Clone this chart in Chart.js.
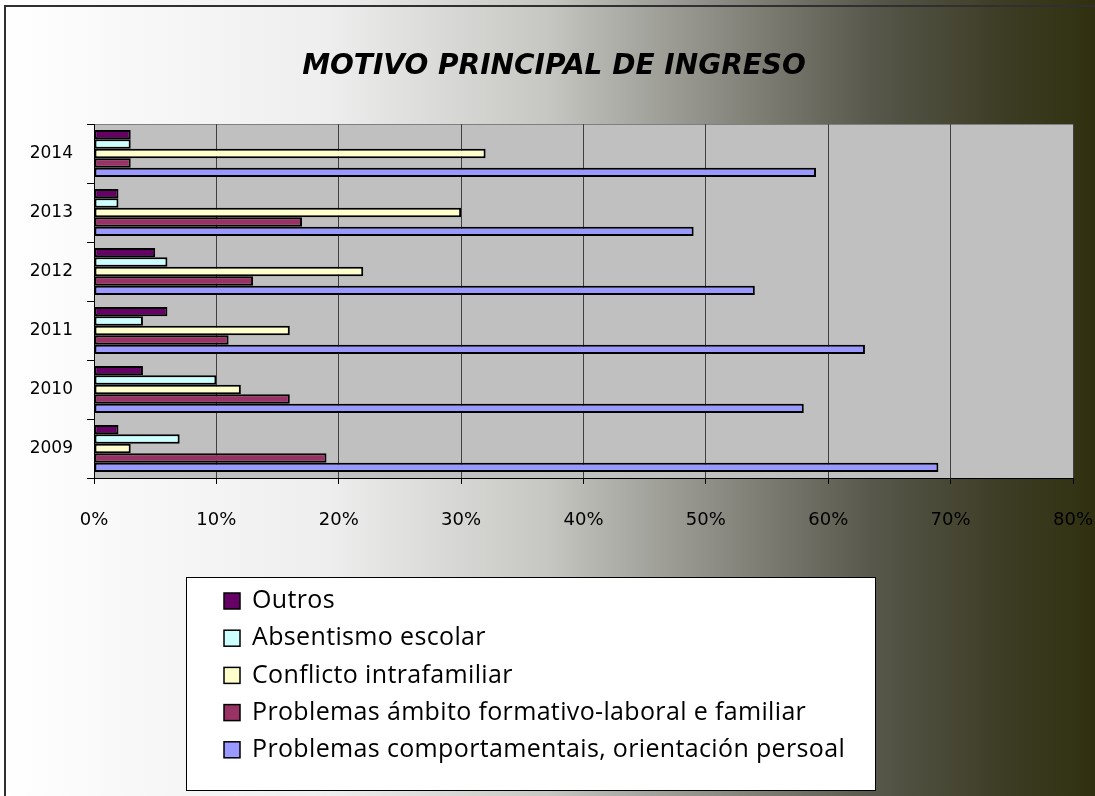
<!DOCTYPE html>
<html>
<head>
<meta charset="utf-8">
<script src="https://cdn.jsdelivr.net/npm/chart.js@4"></script>
<style>
    html, body { margin: 0; padding: 0; background: #fff; }
    canvas { display: block; }
</style>
</head>
<body>
<canvas id="chart" width="1095" height="796"></canvas>
<script>
    // Data
    var years = ['2014', '2013', '2012', '2011', '2010', '2009'];
    var outros = [3, 2, 5, 6, 4, 2];
    var absentismo = [3, 2, 6, 4, 10, 7];
    var conflicto = [32, 30, 22, 16, 12, 3];
    var ambito = [3, 17, 13, 11, 16, 19];
    var comportamentais = [59, 49, 54, 63, 58, 69];
    var seriesNames = [
        'Outros',
        'Absentismo escolar',
        'Conflicto intrafamiliar',
        'Problemas ámbito formativo-laboral e familiar',
        'Problemas comportamentais, orientación persoal'
    ];
    var seriesColors = ['#660066', '#ccffff', '#ffffcc', '#993366', '#9999ff'];
    var titleText = 'MOTIVO PRINCIPAL DE INGRESO';

    var seriesValues = [outros, absentismo, conflicto, ambito, comportamentais];

    var datasets = seriesValues.map(function(values, i) {
        return {
            label: seriesNames[i],
            data: values,
            backgroundColor: seriesColors[i],
            borderColor: '#000000',
            borderWidth: 2,
            borderSkipped: false,
            categoryPercentage: 0.8,
            barPercentage: 1.0
        };
    });

    // Page background, frame, plot area and title
    var backgroundPlugin = {
        id: 'backgroundPlugin',
        beforeDraw: function(chart) {
            var ctx = chart.ctx;
            var w = chart.width, h = chart.height;
            var grad = ctx.createLinearGradient(0, 0, w, 0);
            grad.addColorStop(0, '#ffffff');
            grad.addColorStop(0.05, '#fcfcfc');
            grad.addColorStop(0.3, '#eeeeee');
            grad.addColorStop(0.5, '#c6c6c2');
            grad.addColorStop(0.65, '#8e8e86');
            grad.addColorStop(0.8, '#56564a');
            grad.addColorStop(0.92, '#3c3c24');
            grad.addColorStop(1, '#303010');
            ctx.save();
            ctx.fillStyle = grad;
            ctx.fillRect(0, 0, w, h);

            ctx.strokeStyle = '#303030';
            ctx.lineWidth = 2;
            ctx.strokeRect(5, 6, w + 10, h + 10);

            var a = chart.chartArea;
            ctx.fillStyle = '#c0c0c0';
            ctx.fillRect(a.left, a.top, a.right - a.left, a.bottom - a.top);
            ctx.strokeStyle = '#808080';
            ctx.lineWidth = 1;
            ctx.strokeRect(a.left + 0.5, a.top + 0.5, a.right - a.left, a.bottom - a.top);

            ctx.fillStyle = '#000000';
            ctx.font = 'italic bold 28px "DejaVu Sans"';
            ctx.textAlign = 'center';
            ctx.textBaseline = 'middle';
            ctx.fillText(titleText, 554, 67);
            ctx.restore();
        }
    };

    // Boxed legend below the chart
    var legendBoxPlugin = {
        id: 'legendBoxPlugin',
        afterDraw: function(chart) {
            var ctx = chart.ctx;
            ctx.save();
            ctx.fillStyle = '#ffffff';
            ctx.fillRect(186, 577, 689, 213);
            ctx.strokeStyle = '#000000';
            ctx.lineWidth = 1;
            ctx.strokeRect(186.5, 577.5, 689, 213);

            ctx.font = '25px "Open Sans"';
            ctx.letterSpacing = '0.35px';
            ctx.textAlign = 'left';
            ctx.textBaseline = 'middle';
            chart.data.datasets.forEach(function(ds, i) {
                var y = 601 + i * 37.2;
                ctx.fillStyle = ds.backgroundColor;
                ctx.fillRect(224, y - 8, 16, 16);
                ctx.strokeStyle = '#000000';
                ctx.lineWidth = 1.5;
                ctx.strokeRect(224, y - 8, 16, 16);
                ctx.fillStyle = '#000000';
                ctx.fillText(ds.label, 252, y);
            });
            ctx.restore();
        }
    };

    new Chart(document.getElementById('chart'), {
        type: 'bar',
        data: {
            labels: years,
            datasets: datasets
        },
        options: {
            indexAxis: 'y',
            responsive: false,
            animation: false,
            devicePixelRatio: 1,
            layout: {
                padding: { left: 0, top: 124, right: 22, bottom: 258 }
            },
            plugins: {
                legend: { display: false },
                title: { display: false },
                tooltip: { enabled: false }
            },
            scales: {
                x: {
                    min: 0,
                    max: 80,
                    ticks: {
                        stepSize: 10,
                        color: '#000000',
                        padding: 26,
                        font: { family: 'DejaVu Sans', size: 18 },
                        callback: function(v) { return v + '%'; }
                    },
                    grid: {
                        color: '#404040',
                        lineWidth: 1,
                        tickLength: 6,
                        tickColor: '#000000'
                    },
                    border: { color: '#000000', width: 1 },
                    afterFit: function(scale) {
                        scale.height = 60;
                        scale.paddingLeft = 0;
                        scale.paddingRight = 0;
                    }
                },
                y: {
                    ticks: {
                        color: '#000000',
                        padding: 14,
                        font: { family: 'DejaVu Sans', size: 17 }
                    },
                    grid: {
                        drawOnChartArea: false,
                        tickLength: 7,
                        tickColor: '#000000'
                    },
                    border: { color: '#000000', width: 1 },
                    afterFit: function(scale) {
                        scale.width = 94;
                        scale.paddingTop = 0;
                        scale.paddingBottom = 0;
                    }
                }
            }
        },
        plugins: [backgroundPlugin, legendBoxPlugin]
    });
</script>
</body>
</html>
